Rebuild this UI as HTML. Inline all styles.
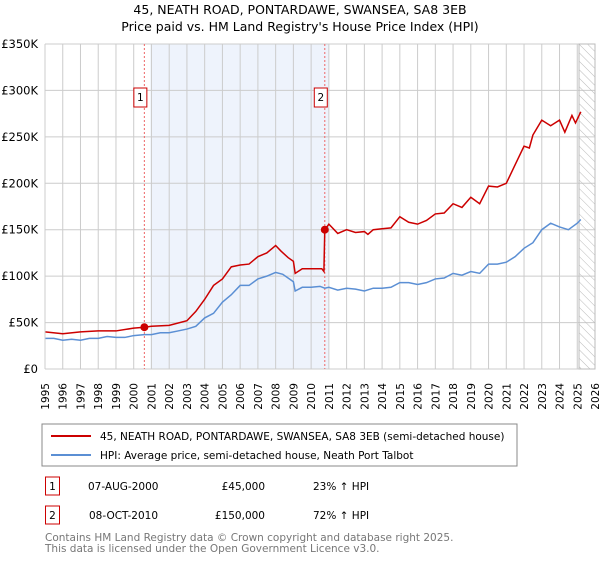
<!DOCTYPE html>
<html><head><meta charset="utf-8"><style>
body{margin:0;background:#fff;font-family:"Liberation Sans","DejaVu Sans",sans-serif;}
</style></head><body>
<svg width="600" height="560" xmlns="http://www.w3.org/2000/svg" font-family="'DejaVu Sans','Liberation Sans',sans-serif">
<defs><pattern id="hatch" width="6" height="6" patternUnits="userSpaceOnUse" patternTransform="rotate(-45)"><line x1="0" y1="0" x2="0" y2="6" stroke="#bbb" stroke-width="1"/></pattern></defs>
<text x="300" y="14" text-anchor="middle" font-size="12.5">45, NEATH ROAD, PONTARDAWE, SWANSEA, SA8 3EB</text>
<text x="300" y="31" text-anchor="middle" font-size="12.5">Price paid vs. HM Land Registry's House Price Index (HPI)</text>
<g id="plot"></g>
<rect x="42" y="424" width="475" height="42" fill="#fff" stroke="#888"/>
<line x1="51" y1="436" x2="91" y2="436" stroke="#cc0000" stroke-width="2"/>
<text x="100" y="440" font-size="10.5">45, NEATH ROAD, PONTARDAWE, SWANSEA, SA8 3EB (semi-detached house)</text>
<line x1="51" y1="455" x2="91" y2="455" stroke="#5b8fd4" stroke-width="2"/>
<text x="100" y="459" font-size="10.5">HPI: Average price, semi-detached house, Neath Port Talbot</text>
<g font-size="10.5">
<rect x="45.5" y="477" width="14" height="18" fill="none" stroke="#cc0000"/><text x="52.5" y="490" text-anchor="middle">1</text>
<text x="88" y="490">07-AUG-2000</text><text x="265" y="490" text-anchor="end">£45,000</text><text x="313" y="490">23% ↑ HPI</text>
<rect x="45.5" y="506" width="14" height="18" fill="none" stroke="#cc0000"/><text x="52.5" y="519" text-anchor="middle">2</text>
<text x="89" y="519">08-OCT-2010</text><text x="265" y="519" text-anchor="end">£150,000</text><text x="313" y="519">72% ↑ HPI</text>
</g>
<text x="45" y="541" font-size="10.5" fill="#777">Contains HM Land Registry data © Crown copyright and database right 2025.</text>
<text x="45" y="552" font-size="10.5" fill="#777">This data is licensed under the Open Government Licence v3.0.</text>
</svg>
<script>
const hpiYears=[1995,1995.5,1996,1996.5,1997,1997.5,1998,1998.5,1999,1999.5,2000,2000.6,2001,2001.5,2002,2002.5,2003,2003.5,2004,2004.5,2005,2005.5,2006,2006.5,2007,2007.5,2008,2008.4,2008.7,2009,2009.1,2009.5,2010,2010.5,2010.77,2011,2011.5,2012,2012.5,2013,2013.5,2014,2014.5,2015,2015.5,2016,2016.5,2017,2017.5,2018,2018.5,2019,2019.5,2020,2020.5,2021,2021.5,2022,2022.5,2023,2023.5,2024,2024.5,2025,2025.2];
const hpiValues=[33,33,31,32,31,33,33,35,34,34,36,37,37,39,39,41,43,46,55,60,72,80,90,90,97,100,104,102,98,94,84,88,88,89,87,88,85,87,86,84,87,87,88,93,93,91,93,97,98,103,101,105,103,113,113,115,121,130,136,150,157,153,150,157,161];
const priceYears=[1995,1996,1997,1998,1999,2000,2000.6,2001,2002,2003,2003.5,2004,2004.5,2005,2005.5,2006,2006.5,2007,2007.5,2008,2008.3,2008.7,2009,2009.1,2009.5,2010,2010.6,2010.72,2010.77,2011,2011.5,2012,2012.5,2013,2013.2,2013.5,2014,2014.5,2015,2015.5,2016,2016.5,2017,2017.5,2018,2018.5,2019,2019.5,2020,2020.5,2021,2021.5,2022,2022.3,2022.5,2023,2023.5,2024,2024.3,2024.7,2024.9,2025.2];
const priceValues=[40,38,40,41,41,44,45,46,47,52,62,75,90,97,110,112,113,121,125,133,127,120,116,103,108,108,108,105,150,156,146,150,147,148,145,150,151,152,164,158,156,160,167,168,178,174,185,178,197,196,200,220,240,238,252,268,262,268,255,273,265,277];
const saleYears=[2000.6,2010.77];
const saleValues=[45,150];
const yTicks=[0,50,100,150,200,250,300,350];
const yTickLabels=["£0","£50K","£100K","£150K","£200K","£250K","£300K","£350K"];
const xTicks=[];for(let y=1995;y<=2026;y++)xTicks.push(y);
const X0=45,X1=595,Y0=369,Y1=44;
const xs=y=>X0+(y-1995)/31*(X1-X0);
const ys=v=>Y0-v/350*(Y0-Y1);
const NS="http://www.w3.org/2000/svg";
const g=document.getElementById('plot');
function mk(t,a){const e=document.createElementNS(NS,t);for(const k in a)e.setAttribute(k,a[k]);g.appendChild(e);return e;}
let e;
e=mk('rect',{x:xs(2000.94),y:Y1,width:xs(2011)-xs(2000.94),height:Y0-Y1,fill:'#eef3fc'});


xTicks.forEach(y=>{
 e=mk('line',{x1:xs(y),x2:xs(y),y1:Y1,y2:Y0,stroke:'#ccc'});
 
 
 e=mk('text',{x:0,y:0,'font-size':'10.5',transform:`translate(${xs(y)+4},${Y0+14}) rotate(-90)`,'text-anchor':'end'});
 e.textContent=y;
 
 
});
yTicks.forEach((v,i)=>{
 e=mk('line',{x1:X0,x2:X1,y1:ys(v),y2:ys(v),stroke:'#ccc'});
 
 
 e=mk('text',{x:X0-7,y:ys(v)+4,'font-size':'11.5','text-anchor':'end'});
 e.textContent=yTickLabels[i];
 
 
});
e=mk('rect',{x:xs(2025.1),y:Y1,width:X1-xs(2025.1),height:Y0-Y1,fill:'url(#hatch)',stroke:'#bbb'});


saleYears.forEach((y,i)=>{
 e=mk('line',{x1:xs(y),x2:xs(y),y1:Y1,y2:Y0,stroke:'#e66','stroke-dasharray':'2,2'});
 
 
 e=mk('rect',{x:xs(y)-10.5,y:88,width:13,height:19,fill:'#fff',stroke:'#cc0000'});
 
 
 e=mk('text',{x:xs(y)-4,y:101,'font-size':'10.5','text-anchor':'middle'});
 e.textContent=i+1;
 
 
});
e=mk('polyline',{points:hpiYears.map((y,i)=>xs(y)+','+ys(hpiValues[i])).join(' '),fill:'none',stroke:'#5b8fd4','stroke-width':1.5});


e=mk('polyline',{points:priceYears.map((y,i)=>xs(y)+','+ys(priceValues[i])).join(' '),fill:'none',stroke:'#cc0000','stroke-width':1.5});


saleYears.forEach((y,i)=>{
 e=mk('circle',{cx:xs(y),cy:ys(saleValues[i]),r:4,fill:'#cc0000'});
 
 
});
e=mk('line',{x1:X0,x2:X0,y1:Y1,y2:Y0,stroke:'#ccc'});


</script>
</body></html>
